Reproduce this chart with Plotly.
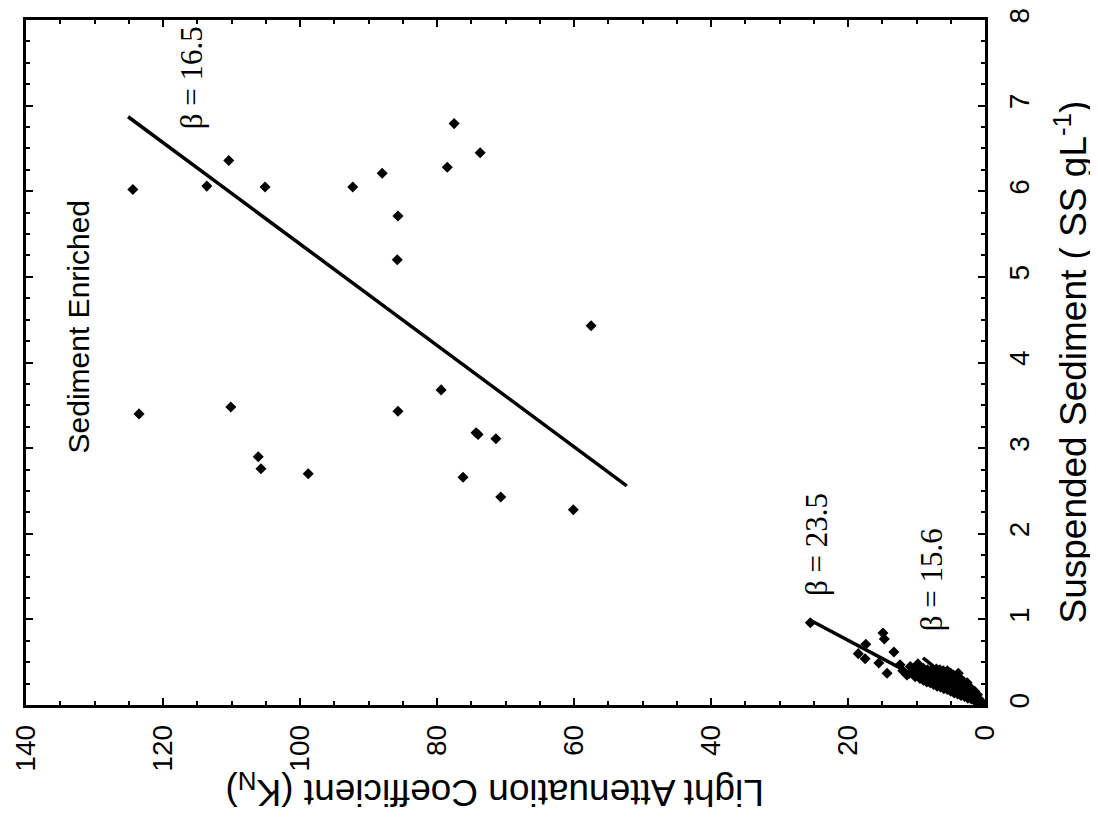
import plotly.graph_objects as go

# ---------------- data ----------------
# Sediment-enriched samples (K_N, SS)
enr_k = [124.4, 113.6, 110.4, 105.1, 92.3, 88.0, 85.7, 85.8, 78.5, 73.7, 77.5,
         57.5, 79.4, 85.7, 74.3, 74.0, 71.4, 76.2, 70.7, 60.1,
         123.5, 110.1, 106.1, 105.7, 98.8]
enr_ss = [6.02, 6.06, 6.36, 6.05, 6.05, 6.21, 5.71, 5.20, 6.28, 6.45, 6.79,
          4.43, 3.68, 3.43, 3.18, 3.16, 3.11, 2.66, 2.43, 2.28,
          3.40, 3.48, 2.90, 2.76, 2.70]

# Low-sediment samples (K_N, SS)
low_ss = [0.02, 0.04, 0.03, 0.07, 0.12, 0.05, 0.10, 0.16, 0.07, 0.12, 0.19,
          0.08, 0.14, 0.22, 0.26, 0.10, 0.16, 0.21, 0.27, 0.11, 0.17, 0.24, 0.30,
          0.13, 0.19, 0.26, 0.33, 0.14, 0.21, 0.28, 0.35, 0.16, 0.23, 0.30, 0.37,
          0.18, 0.25, 0.32, 0.38, 0.19, 0.26, 0.33, 0.40, 0.21, 0.28, 0.35, 0.41,
          0.22, 0.29, 0.36, 0.42, 0.24, 0.31, 0.38, 0.26, 0.32, 0.40,
          0.27, 0.34, 0.41, 0.29, 0.36, 0.43, 0.31, 0.38, 0.33, 0.41,
          0.37, 0.45, 0.40, 0.47,
          0.37, 0.40, 0.48, 0.35, 0.62, 0.37, 0.49, 0.54, 0.60, 0.77, 0.84, 0.71, 0.96]
low_k = [0.5, 0.5, 1.0, 1.0, 1.1, 1.5, 1.6, 1.5, 2.0, 2.1, 2.0,
         2.5, 2.6, 2.4, 2.6, 3.0, 3.1, 2.9, 3.1, 3.5, 3.6, 3.4, 3.5,
         4.0, 4.1, 3.9, 4.2, 4.5, 4.6, 4.4, 4.6, 5.0, 5.1, 4.9, 5.0,
         5.5, 5.6, 5.4, 5.6, 6.0, 6.1, 5.9, 6.1, 6.5, 6.6, 6.4, 6.6,
         7.0, 7.1, 6.9, 7.1, 7.5, 7.6, 7.4, 8.0, 8.1, 8.0,
         8.5, 8.6, 8.4, 9.0, 9.1, 9.0, 9.5, 9.6, 10.2, 10.0,
         11.0, 10.9, 12.0, 12.4,
         3.9, 5.5, 9.8, 11.4, 13.3, 14.3, 15.5, 17.5, 18.5, 14.7, 14.9, 17.4, 25.5]

# Regression lines (end points)
fit_enr_ss = [2.56, 6.87]
fit_enr_k = [52.3, 125.1]
fit_mid_ss = [0.25, 0.99]
fit_mid_k = [8.1, 25.5]
fit_low_ss = [0.0, 0.55]
fit_low_k = [0.5, 9.05]

labels = ["β = 16.5", "β = 23.5", "β = 15.6"]
label_k = [115.9, 24.5, 7.7]
label_ss = [7.32, 1.87, 1.46]

x_ticks = [0, 20, 40, 60, 80, 100, 120, 140]
y_ticks = [0, 1, 2, 3, 4, 5, 6, 7, 8]

# ---------------- figure ----------------
SANS = "Liberation Sans, Arial, sans-serif"
SERIF = "Liberation Serif, Times New Roman, serif"

fig = go.Figure()
mk = dict(symbol="diamond", size=8.5, color="black", line=dict(width=0))
fig.add_trace(go.Scatter(x=enr_k, y=enr_ss, mode="markers", marker=mk))
fig.add_trace(go.Scatter(x=low_k, y=low_ss, mode="markers", marker=mk))
for xs, ys in [(fit_enr_k, fit_enr_ss), (fit_mid_k, fit_mid_ss), (fit_low_k, fit_low_ss)]:
    fig.add_trace(go.Scatter(x=xs, y=ys, mode="lines", line=dict(color="black", width=3.5)))

for t, k, s in zip(labels, label_k, label_ss):
    fig.add_annotation(x=k, y=s, xref="x", yref="y", text=t, showarrow=False,
                       textangle=-90, font=dict(family=SERIF, size=31, color="black"))

fig.add_annotation(x=132.4, y=4.41, xref="x", yref="y", text="Sediment Enriched",
                   showarrow=False, textangle=-90,
                   font=dict(family=SANS, size=30, color="black"))

# axis titles (rotated like the scanned figure)
fig.add_annotation(x=0.489, y=-0.124, xref="paper", yref="paper",
                   text="Light Attenuation Coefficient (K<sub>N</sub>)",
                   showarrow=False, textangle=180, yanchor="middle",
                   font=dict(family=SANS, size=37, color="black"))
fig.add_annotation(x=1.0897, y=0.5, xref="paper", yref="paper",
                   text="Suspended Sediment ( SS gL<sup>-1</sup>)",
                   showarrow=False, textangle=-90, xanchor="center",
                   font=dict(family=SANS, size=37, color="black"))

axis_common = dict(showgrid=False, zeroline=False, showline=True, linecolor="black",
                   linewidth=2.5, mirror="allticks", ticks="inside", ticklen=7,
                   tickwidth=2, tickcolor="black", tickangle=-90, automargin=False,
                   tickfont=dict(family=SANS, size=28, color="black"))

fig.update_xaxes(range=[140, 0], tickvals=x_ticks, ticklabelstandoff=6,
                 minor=dict(dtick=5, ticks="inside", ticklen=4, tickwidth=1.5,
                            tickcolor="black", showgrid=False),
                 **axis_common)
fig.update_yaxes(range=[0, 8], tickvals=y_ticks, side="right", ticklabelstandoff=8,
                 minor=dict(dtick=0.25, ticks="inside", ticklen=4, tickwidth=1.5,
                            tickcolor="black", showgrid=False),
                 **axis_common)

fig.update_layout(width=1090, height=822, showlegend=False,
                  margin=dict(l=18, r=113, t=12, b=125, autoexpand=False),
                  plot_bgcolor="white", paper_bgcolor="white")

fig.write_html("out.html")
